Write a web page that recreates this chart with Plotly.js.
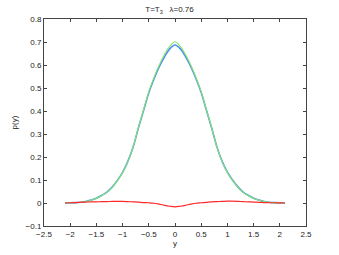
<!DOCTYPE html>
<html>
<head>
<meta charset="utf-8">
<script src="https://cdn.plot.ly/plotly-3.0.1.min.js"></script>
<style>html,body{margin:0;padding:0;background:#fff;}#chart{width:339px;height:255px;}</style>
</head>
<body>
<div id="chart"></div>
<script>
const xs = [-2.1,-2.0,-1.9,-1.8,-1.7,-1.6,-1.5,-1.4,-1.3,-1.2,-1.1,-1.0,-0.9,-0.8,-0.7,-0.6,-0.5,-0.4,-0.3,-0.2,-0.1,0.0,0.1,0.2,0.3,0.4,0.5,0.6,0.7,0.8,0.9,1.0,1.1,1.2,1.3,1.4,1.5,1.6,1.7,1.8,1.9,2.0,2.1];
const greenP = [0,0.0005,0.0015,0.003,0.006,0.012,0.020,0.032,0.046,0.068,0.097,0.132,0.180,0.243,0.327,0.405,0.483,0.546,0.600,0.646,0.681,0.701,0.681,0.646,0.600,0.546,0.483,0.405,0.327,0.243,0.180,0.132,0.097,0.068,0.046,0.032,0.020,0.012,0.006,0.003,0.0015,0.0005,0];
const blueP = [0,0.0006,0.0017,0.0035,0.0068,0.013,0.021,0.033,0.047,0.069,0.098,0.133,0.181,0.242,0.325,0.402,0.479,0.540,0.593,0.636,0.670,0.687,0.671,0.637,0.594,0.541,0.480,0.403,0.326,0.244,0.181,0.134,0.099,0.070,0.047,0.033,0.021,0.013,0.0068,0.0035,0.0017,0.0006,0];
const redP = [0,0.001,0.002,0.003,0.004,0.005,0.005,0.006,0.006,0.007,0.007,0.007,0.006,0.005,0.004,0.002,0.001,-0.001,-0.005,-0.010,-0.014,-0.017,-0.014,-0.010,-0.005,-0.001,0.001,0.003,0.005,0.006,0.007,0.008,0.008,0.007,0.006,0.005,0.004,0.003,0.002,0.001,0.001,0.0005,0];

const traces = [
  {x: xs, y: blueP, mode: 'lines', line: {color: '#4a90f5', width: 1.6, shape: 'spline'}, hoverinfo: 'skip'},
  {x: xs, y: greenP, mode: 'lines', line: {color: '#86e468', width: 1.1, shape: 'spline'}, hoverinfo: 'skip'},
  {x: xs, y: redP, mode: 'lines', line: {color: '#ff2a2a', width: 1.2, shape: 'spline'}, hoverinfo: 'skip'}
];

const axisCommon = {
  showline: true, linecolor: '#444', linewidth: 1, mirror: 'ticks',
  ticks: 'inside', ticklen: 3, tickcolor: '#444', tickwidth: 1,
  showgrid: false, zeroline: false,
  tickfont: {family: 'Liberation Sans, Arial, sans-serif', size: 8, color: '#222'}
};

const layout = {
  width: 339, height: 255,
  margin: {l: 44, r: 33, t: 19, b: 29, pad: 0},
  paper_bgcolor: '#fff', plot_bgcolor: '#fff',
  showlegend: false,
  title: {text: 'T=T<sub>3</sub>   λ=0.76', x: 0.5, xanchor: 'center', y: 0.975, yanchor: 'top',
          font: {family: 'Liberation Sans, Arial, sans-serif', size: 8, color: '#222'}},
  xaxis: Object.assign({}, axisCommon, {
    range: [-2.5, 2.5], tickvals: [-2.5,-2,-1.5,-1,-0.5,0,0.5,1,1.5,2,2.5],
    title: {text: 'y', standoff: 2, font: {family: 'Liberation Sans, Arial, sans-serif', size: 8, color: '#222'}}
  }),
  yaxis: Object.assign({}, axisCommon, {
    range: [-0.1, 0.8], tickvals: [-0.1,0,0.1,0.2,0.3,0.4,0.5,0.6,0.7,0.8],
    title: {text: 'p(y)', standoff: 6, font: {family: 'Liberation Sans, Arial, sans-serif', size: 8, color: '#222'}}
  })
};

Plotly.newPlot('chart', traces, layout, {staticPlot: true, displayModeBar: false});
</script>
</body>
</html>
